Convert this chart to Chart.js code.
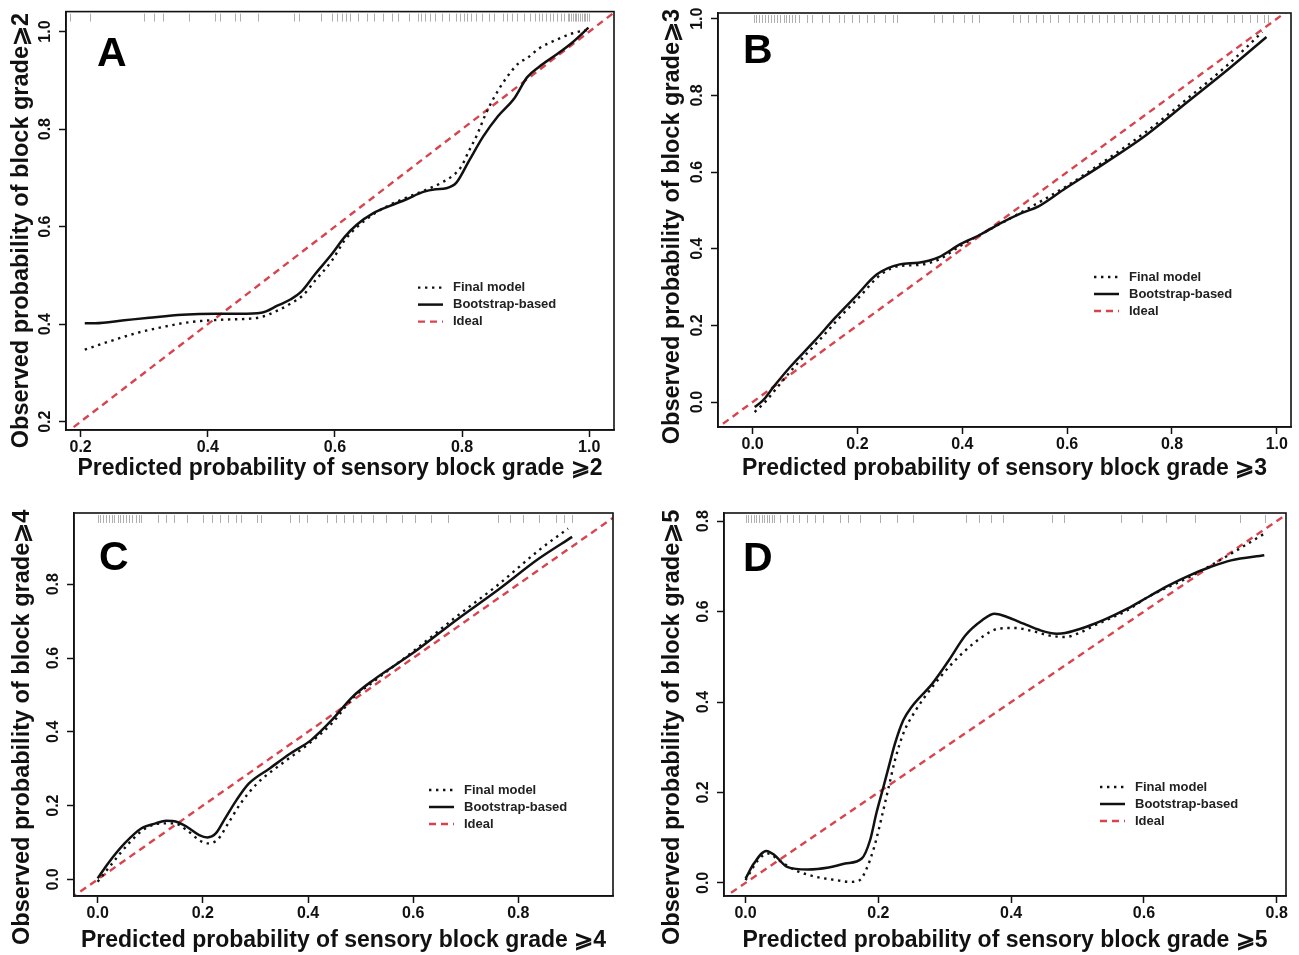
<!DOCTYPE html>
<html>
<head>
<meta charset="utf-8">
<script src="https://cdn.jsdelivr.net/npm/chart.js@4.4.1/dist/chart.umd.min.js"></script>
<style>
html,body{margin:0;padding:0;background:#ffffff;}
#wrap{position:relative;width:1299px;height:955px;overflow:hidden;background:#fff;}
#wrap canvas{position:absolute;left:0;top:0;}
</style>
</head>
<body>
<div id="wrap">
<canvas id="cA" width="1299" height="955"></canvas>
<canvas id="cB" width="1299" height="955"></canvas>
<canvas id="cC" width="1299" height="955"></canvas>
<canvas id="cD" width="1299" height="955"></canvas>
</div>
<script>
// ---------------- DATA ----------------
const SERIES_NAMES = ['Final model', 'Bootstrap-based', 'Ideal'];
const IDEAL = [[-0.5, -0.5], [1.5, 1.5]];

const X_TICKS_A = [0.2, 0.4, 0.6, 0.8, 1.0];
const Y_TICKS_A = [0.2, 0.4, 0.6, 0.8, 1.0];
const X_TICKS_B = [0.0, 0.2, 0.4, 0.6, 0.8, 1.0];
const Y_TICKS_B = [0.0, 0.2, 0.4, 0.6, 0.8, 1.0];
const X_TICKS_C = [0.0, 0.2, 0.4, 0.6, 0.8];
const Y_TICKS_C = [0.0, 0.2, 0.4, 0.6, 0.8];
const X_TICKS_D = [0.0, 0.2, 0.4, 0.6, 0.8];
const Y_TICKS_D = [0.0, 0.2, 0.4, 0.6, 0.8];

const TITLES_X = [
  'Predicted probability of sensory block grade \u2A7E2',
  'Predicted probability of sensory block grade \u2A7E3',
  'Predicted probability of sensory block grade \u2A7E4',
  'Predicted probability of sensory block grade \u2A7E5'
];
const TITLES_Y = [
  'Observed probability of block grade\u2A7E2',
  'Observed probability of block grade\u2A7E3',
  'Observed probability of block grade\u2A7E4',
  'Observed probability of block grade\u2A7E5'
];
const PANEL_LETTERS = ['A', 'B', 'C', 'D'];

// Panel A
const A_BOOT = [[0.2065,0.402],[0.223,0.402],[0.2686,0.408],[0.3078,0.4132],[0.36,0.4193],[0.4123,0.4214],[0.4515,0.4214],[0.4841,0.4234],[0.5103,0.4384],[0.5298,0.4506],[0.5462,0.4656],[0.569,0.503],[0.5952,0.5439],[0.6148,0.578],[0.6343,0.6038],[0.6605,0.6276],[0.6866,0.6426],[0.7127,0.6562],[0.7389,0.6712],[0.7585,0.6766],[0.7748,0.6787],[0.7911,0.6903],[0.8107,0.7345],[0.8336,0.7856],[0.8564,0.8264],[0.8826,0.8639],[0.9022,0.9061],[0.9218,0.9285],[0.9479,0.9523],[0.974,0.9782],[0.9988,1.008]];
const A_FINAL = [[0.2065,0.3478],[0.2425,0.3635],[0.2882,0.3819],[0.3339,0.3955],[0.3731,0.4044],[0.4188,0.4091],[0.4645,0.4112],[0.4841,0.4146],[0.5103,0.4282],[0.5298,0.4418],[0.5494,0.4588],[0.569,0.4894],[0.5952,0.5303],[0.6148,0.5711],[0.6343,0.5984],[0.6605,0.6256],[0.6866,0.6447],[0.7127,0.6596],[0.7389,0.6732],[0.765,0.6882],[0.7846,0.7039],[0.7977,0.7209],[0.8107,0.7549],[0.8238,0.789],[0.8368,0.8298],[0.8499,0.8639],[0.8695,0.9047],[0.8891,0.9353],[0.9022,0.9455],[0.9218,0.966],[0.9479,0.983],[0.974,0.9966],[0.9969,1.0034]];
const A_RUG = [0.184,0.215,0.299,0.316,0.330,0.370,0.412,0.420,0.443,0.451,0.479,0.536,0.544,0.578,0.595,0.603,0.611,0.617,0.623,0.637,0.651,0.662,0.676,0.690,0.699,0.716,0.730,0.735,0.741,0.749,0.758,0.769,0.780,0.791,0.797,0.803,0.808,0.814,0.822,0.831,0.842,0.851,0.865,0.870,0.879,0.887,0.898,0.907,0.915,0.921,0.926,0.932,0.938,0.943,0.949,0.955,0.960,0.966,0.969,0.972,0.975,0.978,0.980,0.983,0.986,0.989,0.992,0.994,0.997,0.999];

// Panel B
const B_BOOT = [[0.004,-0.013],[0.0198,0.0043],[0.0395,0.039],[0.0711,0.0909],[0.1186,0.1602],[0.1581,0.2208],[0.1976,0.2771],[0.2372,0.3333],[0.2806,0.3593],[0.3162,0.3636],[0.3557,0.3784],[0.3953,0.4113],[0.4348,0.4372],[0.4743,0.4675],[0.5138,0.4935],[0.5455,0.5108],[0.5929,0.5541],[0.6719,0.6234],[0.751,0.697],[0.83,0.7835],[0.9091,0.8701],[0.9802,0.9524]];
const B_FINAL = [[0.004,-0.026],[0.0237,0.0],[0.0474,0.039],[0.0791,0.0909],[0.1265,0.1602],[0.166,0.2208],[0.2055,0.2771],[0.2451,0.3333],[0.2806,0.355],[0.3162,0.3576],[0.3557,0.3723],[0.3953,0.4069],[0.4348,0.4372],[0.5138,0.4961],[0.5929,0.5584],[0.6719,0.6294],[0.751,0.7056],[0.83,0.7922],[0.9091,0.8831],[0.9723,0.9654]];
const B_RUG = [0.003,0.007,0.013,0.018,0.024,0.030,0.036,0.041,0.047,0.053,0.059,0.064,0.070,0.076,0.081,0.089,0.103,0.114,0.132,0.146,0.164,0.175,0.189,0.203,0.218,0.232,0.253,0.268,0.275,0.346,0.361,0.382,0.404,0.418,0.432,0.497,0.511,0.525,0.540,0.554,0.568,0.583,0.604,0.619,0.633,0.647,0.661,0.676,0.690,0.704,0.719,0.733,0.747,0.762,0.776,0.790,0.805,0.819,0.833,0.847,0.862,0.876,0.905,0.919,0.933,0.948,0.962,0.976,0.984];

// Panel C
const C_BOOT = [[0.0,0.0027],[0.0197,0.0433],[0.0512,0.0975],[0.0827,0.1381],[0.1103,0.1517],[0.13,0.1589],[0.1497,0.1562],[0.1694,0.1427],[0.1931,0.1201],[0.2088,0.1138],[0.2246,0.1246],[0.2404,0.1607],[0.264,0.2149],[0.2877,0.26],[0.327,0.3007],[0.3664,0.3413],[0.4058,0.3774],[0.4452,0.4316],[0.4846,0.4948],[0.524,0.54],[0.6028,0.6167],[0.6816,0.7025],[0.7604,0.7837],[0.8392,0.8695],[0.9023,0.9282]];
const C_FINAL = [[0.0,-0.0063],[0.0276,0.0433],[0.0591,0.0975],[0.0906,0.1381],[0.1221,0.1517],[0.1458,0.1517],[0.1694,0.1336],[0.1931,0.1065],[0.2088,0.0975],[0.2285,0.1084],[0.2482,0.1517],[0.2719,0.2059],[0.3034,0.26],[0.3507,0.3142],[0.398,0.3639],[0.4452,0.4226],[0.4846,0.4903],[0.524,0.5354],[0.6028,0.6212],[0.6816,0.7115],[0.7604,0.7973],[0.8392,0.8921],[0.8944,0.9508]];
const C_RUG = [0.0,0.005,0.010,0.016,0.021,0.027,0.032,0.038,0.043,0.049,0.054,0.060,0.066,0.072,0.078,0.083,0.114,0.130,0.146,0.169,0.201,0.217,0.233,0.248,0.264,0.272,0.303,0.311,0.366,0.382,0.398,0.437,0.453,0.469,0.485,0.500,0.524,0.548,0.579,0.603,0.634,0.666,0.761,0.784,0.808,0.839,0.871,0.887,0.902];

// Panel D
const D_BOOT = [[0.0,0.0096],[0.0125,0.0427],[0.0313,0.0707],[0.0438,0.0612],[0.0625,0.0354],[0.0938,0.0295],[0.125,0.0339],[0.15,0.0427],[0.175,0.0538],[0.1875,0.0943],[0.1969,0.1533],[0.2063,0.2049],[0.2156,0.2565],[0.225,0.308],[0.2375,0.3596],[0.25,0.3891],[0.2813,0.4407],[0.3063,0.4923],[0.3313,0.5475],[0.3563,0.5807],[0.375,0.5954],[0.3938,0.5881],[0.4188,0.5733],[0.4438,0.5586],[0.4688,0.5512],[0.4813,0.5527],[0.5125,0.566],[0.5438,0.5844],[0.575,0.6065],[0.6063,0.6323],[0.6375,0.6581],[0.6688,0.6802],[0.7,0.6986],[0.7313,0.7133],[0.7813,0.7244]];
const D_FINAL = [[0.0,0.0059],[0.0188,0.0501],[0.0344,0.0648],[0.05,0.0501],[0.075,0.028],[0.1063,0.0133],[0.1375,0.0059],[0.1563,0.0022],[0.1719,0.0059],[0.1813,0.028],[0.1938,0.0796],[0.2063,0.1533],[0.2156,0.2122],[0.225,0.2712],[0.2375,0.3301],[0.2563,0.3817],[0.2813,0.4333],[0.3063,0.4775],[0.3313,0.5144],[0.3563,0.5438],[0.3813,0.5623],[0.4063,0.5637],[0.4313,0.5571],[0.4563,0.5475],[0.4813,0.5438],[0.5,0.5512],[0.5313,0.5733],[0.575,0.6028],[0.6063,0.6323],[0.6688,0.6765],[0.7313,0.7281],[0.7813,0.7723]];
const D_RUG = [0.0,0.004,0.008,0.012,0.016,0.020,0.024,0.028,0.032,0.036,0.040,0.043,0.052,0.062,0.071,0.080,0.092,0.105,0.117,0.142,0.154,0.172,0.203,0.228,0.252,0.332,0.351,0.369,0.388,0.462,0.480,0.566,0.597,0.634,0.677,0.745,0.782];

// ---------------- LAYOUT / STYLE ----------------
const FONT = '"Liberation Sans", Arial, Helvetica, sans-serif';
const PAGE_W = 1299, PAGE_H = 955;
const XT_SIZE = 23, YT_SIZE = 23.5;
const PANELS = [
  {id:'cA', box:[66,10,614,430], xr:[0.177,1.039], yr:[0.183,1.041], xt:X_TICKS_A, yt:Y_TICKS_A,
   final:A_FINAL, boot:A_BOOT, rug:A_RUG, xTitle:TITLES_X[0], yTitle:TITLES_Y[0], letter:PANEL_LETTERS[0],
   yTitleX:22, yTitleShift:3, xTitleY:469, letterOff:[31,54], legendOff:[352,276]},
  {id:'cB', box:[718,13,1291,427], xr:[-0.066,1.027], yr:[-0.065,1.015], xt:X_TICKS_B, yt:Y_TICKS_B,
   final:B_FINAL, boot:B_BOOT, rug:B_RUG, xTitle:TITLES_X[1], yTitle:TITLES_Y[1], letter:PANEL_LETTERS[1],
   yTitleX:673, yTitleShift:2, xTitleY:469, letterOff:[25,50], legendOff:[376,264]},
  {id:'cC', box:[74,513,613,896], xr:[-0.045,0.98], yr:[-0.045,0.993], xt:X_TICKS_C, yt:Y_TICKS_C,
   final:C_FINAL, boot:C_BOOT, rug:C_RUG, xTitle:TITLES_X[2], yTitle:TITLES_Y[2], letter:PANEL_LETTERS[2],
   yTitleX:23, yTitleShift:7, xTitleY:941, letterOff:[25,57], legendOff:[355,277]},
  {id:'cD', box:[724,513,1286,896], xr:[-0.0325,0.814], yr:[-0.029,0.818], xt:X_TICKS_D, yt:Y_TICKS_D,
   final:D_FINAL, boot:D_BOOT, rug:D_RUG, xTitle:TITLES_X[3], yTitle:TITLES_Y[3], letter:PANEL_LETTERS[3],
   yTitleX:673, yTitleShift:7, xTitleY:941, letterOff:[19,58], legendOff:[376,274]}
];

const toXY = arr => arr.map(p => ({x:p[0], y:p[1]}));

function panelPlugin(p) {
  return {
    id: 'panelDeco' + p.letter,
    beforeDatasetsDraw(chart) {
      const ctx = chart.ctx, a = chart.chartArea, xs = chart.scales.x;
      ctx.save();
      ctx.strokeStyle = 'rgba(110,110,110,0.55)';
      ctx.lineWidth = 1;
      p.rug.forEach(v => {
        const px = Math.round(xs.getPixelForValue(v)) + 0.5;
        ctx.beginPath(); ctx.moveTo(px, a.top + 2); ctx.lineTo(px, a.top + 10); ctx.stroke();
      });
      ctx.restore();
    },
    afterDatasetsDraw(chart) {
      const ctx = chart.ctx, a = chart.chartArea;
      ctx.save();
      ctx.strokeStyle = '#111'; ctx.lineWidth = 1.6;
      ctx.strokeRect(a.left, a.top, a.right - a.left, a.bottom - a.top);
      ctx.fillStyle = '#000';
      ctx.font = 'bold 41px ' + FONT;
      ctx.textAlign = 'left'; ctx.textBaseline = 'alphabetic';
      ctx.fillText(p.letter, a.left + p.letterOff[0], a.top + p.letterOff[1]);
      const lx = a.left + p.legendOff[0], ly = a.top + p.legendOff[1];
      ctx.font = 'bold 13px ' + FONT;
      ctx.textBaseline = 'middle';
      chart.data.datasets.forEach((ds, i) => {
        const y = ly + i * 17;
        ctx.save();
        ctx.strokeStyle = ds.borderColor; ctx.lineWidth = ds.borderWidth;
        ctx.setLineDash(ds.borderDash || []);
        ctx.beginPath(); ctx.moveTo(lx, y); ctx.lineTo(lx + 25, y); ctx.stroke();
        ctx.restore();
        ctx.fillStyle = '#222';
        ctx.fillText(ds.label, lx + 35, y);
      });
      ctx.restore();
    }
  };
}

function makeChart(p) {
  const [L, T, R, B] = p.box;
  const YW = Math.min(70, L - 4);
  const XH = 58;
  new Chart(document.getElementById(p.id), {
    type: 'scatter',
    data: {
      datasets: [
        {label: SERIES_NAMES[0], data: toXY(p.final), showLine: true, borderColor: '#111', borderWidth: 2.4,
         borderDash: [2.4, 4.6], cubicInterpolationMode: 'monotone', pointRadius: 0, fill: false},
        {label: SERIES_NAMES[1], data: toXY(p.boot), showLine: true, borderColor: '#111', borderWidth: 2.5,
         cubicInterpolationMode: 'monotone', pointRadius: 0, fill: false},
        {label: SERIES_NAMES[2], data: toXY(IDEAL), showLine: true, borderColor: '#d8444e', borderWidth: 2.4,
         borderDash: [7, 5], tension: 0, pointRadius: 0, fill: false}
      ]
    },
    options: {
      responsive: false, animation: false, devicePixelRatio: 1,
      layout: {padding: {left: L - YW, top: T, right: PAGE_W - R, bottom: PAGE_H - B - XH}},
      plugins: {legend: {display: false}, tooltip: {enabled: false}},
      events: [],
      scales: {
        x: {
          type: 'linear', position: 'bottom', min: p.xr[0], max: p.xr[1],
          afterFit: s => { s.height = XH; },
          afterBuildTicks: s => { s.ticks = p.xt.map(v => ({value: v})); },
          grid: {display: true, drawOnChartArea: false, drawTicks: true, tickLength: 7, tickWidth: 1.5, tickColor: '#111'},
          border: {display: true, color: '#111', width: 1.5},
          ticks: {autoSkip: false, maxRotation: 0, minRotation: 0, padding: 1, color: '#111',
                  font: {family: FONT, size: 16, weight: 'bold'}, callback: v => Number(v).toFixed(1)},
          title: {display: true, text: p.xTitle, color: '#111',
                  font: {family: FONT, size: XT_SIZE, weight: 'bold', lineHeight: 1},
                  padding: {top: 0, bottom: (B + XH) - p.xTitleY - XT_SIZE / 2}}
        },
        y: {
          type: 'linear', position: 'left', min: p.yr[0], max: p.yr[1],
          afterFit: s => { s.width = YW; },
          afterBuildTicks: s => { s.ticks = p.yt.map(v => ({value: v})); },
          grid: {display: true, drawOnChartArea: false, drawTicks: true, tickLength: 7, tickWidth: 1.5, tickColor: '#111'},
          border: {display: true, color: '#111', width: 1.5},
          ticks: {autoSkip: false, minRotation: 90, maxRotation: 90, crossAlign: 'center', padding: 2, color: '#111',
                  font: {family: FONT, size: 16, weight: 'bold'}, callback: v => Number(v).toFixed(1)},
          title: {display: true, text: p.yTitle + ' '.repeat(p.yTitleShift), color: '#111',
                  font: {family: FONT, size: YT_SIZE, weight: 'bold', lineHeight: 1},
                  padding: {top: p.yTitleX - (L - YW) - YT_SIZE / 2, bottom: 0}}
        }
      }
    },
    plugins: [panelPlugin(p)]
  });
}

PANELS.forEach(makeChart);
</script>
</body>
</html>
